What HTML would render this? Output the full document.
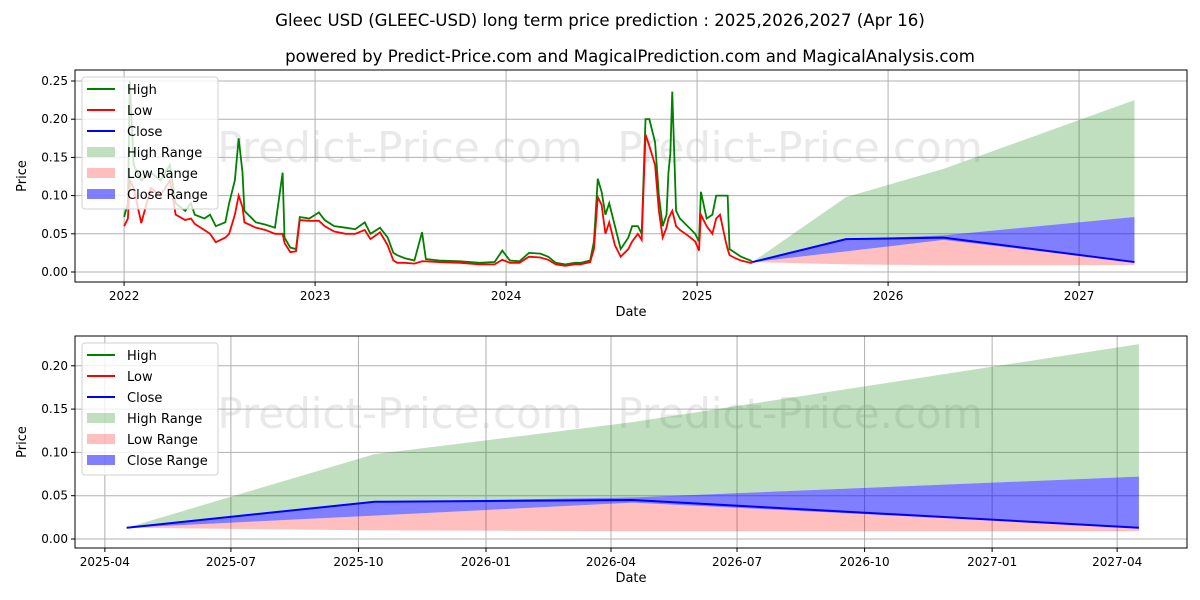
<!DOCTYPE html>
<html><head><meta charset="utf-8">
<style>
html,body{margin:0;padding:0;background:#fff;}
svg{display:block;font-family:"DejaVu Sans","Liberation Sans",sans-serif;}
</style></head>
<body>
<svg id="chart" width="1200" height="600" viewBox="0 0 1200 600" xmlns="http://www.w3.org/2000/svg">
<rect width="1200" height="600" fill="#fff"/>
<text x="600" y="26" text-anchor="middle" font-size="16.6">Gleec USD (GLEEC-USD) long term price prediction : 2025,2026,2027 (Apr 16)</text>
<text x="630" y="62" text-anchor="middle" font-size="16.6">powered by Predict-Price.com and MagicalPrediction.com and MagicalAnalysis.com</text>
<g id="top"></g>
<g id="bottom"></g>
</svg>
<script>
const histDates=[2022.00,2022.02,2022.03,2022.05,2022.09,2022.14,2022.19,2022.24,2022.27,2022.32,2022.35,2022.37,2022.42,2022.45,2022.48,2022.53,2022.55,2022.58,2022.60,2022.62,2022.63,2022.69,2022.74,2022.79,2022.83,2022.84,2022.87,2022.90,2022.92,2022.97,2023.02,2023.05,2023.10,2023.16,2023.21,2023.26,2023.29,2023.34,2023.38,2023.41,2023.43,2023.47,2023.52,2023.56,2023.58,2023.65,2023.76,2023.86,2023.94,2023.98,2024.02,2024.07,2024.12,2024.18,2024.22,2024.26,2024.31,2024.36,2024.39,2024.44,2024.46,2024.48,2024.50,2024.52,2024.54,2024.57,2024.60,2024.64,2024.66,2024.69,2024.71,2024.73,2024.75,2024.78,2024.80,2024.82,2024.84,2024.85,2024.86,2024.87,2024.89,2024.91,2024.95,2024.99,2025.01,2025.02,2025.05,2025.08,2025.10,2025.12,2025.15,2025.16,2025.17,2025.20,2025.23,2025.28,2025.29];
const histHigh=[0.072,0.09,0.25,0.14,0.12,0.13,0.12,0.14,0.09,0.08,0.09,0.075,0.07,0.075,0.06,0.065,0.09,0.12,0.175,0.13,0.08,0.065,0.062,0.058,0.13,0.045,0.032,0.03,0.072,0.07,0.078,0.068,0.06,0.058,0.056,0.065,0.05,0.058,0.045,0.025,0.022,0.018,0.015,0.052,0.017,0.015,0.014,0.012,0.013,0.028,0.015,0.014,0.025,0.024,0.02,0.012,0.01,0.012,0.012,0.015,0.04,0.122,0.105,0.075,0.09,0.06,0.03,0.045,0.06,0.06,0.05,0.2,0.2,0.17,0.1,0.06,0.075,0.13,0.155,0.236,0.08,0.07,0.06,0.05,0.04,0.105,0.07,0.075,0.1,0.1,0.1,0.1,0.03,0.025,0.02,0.015,0.013];
const histLow=[0.06,0.07,0.12,0.11,0.064,0.11,0.10,0.12,0.075,0.068,0.07,0.063,0.055,0.05,0.039,0.045,0.05,0.075,0.10,0.085,0.065,0.058,0.055,0.05,0.05,0.038,0.026,0.027,0.068,0.067,0.067,0.06,0.053,0.05,0.05,0.055,0.043,0.052,0.035,0.015,0.012,0.012,0.011,0.014,0.014,0.013,0.012,0.01,0.01,0.016,0.012,0.012,0.02,0.019,0.016,0.01,0.008,0.01,0.01,0.013,0.03,0.098,0.088,0.05,0.065,0.035,0.02,0.03,0.04,0.05,0.042,0.18,0.165,0.14,0.08,0.045,0.058,0.07,0.075,0.08,0.06,0.055,0.048,0.04,0.028,0.075,0.06,0.05,0.07,0.075,0.04,0.03,0.022,0.018,0.015,0.012,0.012];
const fcDates=[2025.29,2025.78,2026.29,2027.29];
const fcHighUpper=[0.013,0.098,0.135,0.225];
const fcHighLower=[0.013,0.043,0.048,0.072];
const fcLowUpper=[0.013,0.027,0.042,0.013];
const fcLowLower=[0.013,0.010,0.009,0.009];
const fcCloseUpper=[0.013,0.043,0.048,0.072];
const fcCloseLower=[0.013,0.027,0.042,0.013];
const fcClose=[0.013,0.043,0.045,0.013];
const topYTicks=[0,0.05,0.10,0.15,0.20,0.25];
const topYLabels=["0.00","0.05","0.10","0.15","0.20","0.25"];
const topXTicks=[2022,2023,2024,2025,2026,2027];
const botYTicks=[0,0.05,0.10,0.15,0.20];
const botYLabels=["0.00","0.05","0.10","0.15","0.20"];
const botXTicks=[2025.247,2025.496,2025.748,2026.0,2026.247,2026.496,2026.748,2027.0,2027.247];
const botXLabels=["2025-04","2025-07","2025-10","2026-01","2026-04","2026-07","2026-10","2027-01","2027-04"];

const NS="http://www.w3.org/2000/svg";
function mk(parent,tag,attrs,name,text){
  const e=document.createElementNS(NS,tag);
  for(const k in attrs)e.setAttribute(k,attrs[k]);
  
  
  if(text!==undefined)e.textContent=text;
  parent.appendChild(e);return e;
}
function panel(g,box,xd,yd,xt,xl,yt,yl,showHist,prefix){
  const sx=v=>box.x0+(v-xd[0])/(xd[1]-xd[0])*(box.x1-box.x0);
  const sy=v=>box.y1-(v-yd[0])/(yd[1]-yd[0])*(box.y1-box.y0);
  const wm=[[400,box.y0+92],[800,box.y0+92]];
  wm.forEach(p=>mk(g,'text',{x:p[0],y:p[1],'text-anchor':'middle','font-size':42,fill:'#e9e9e9'},prefix+'-watermark','Predict-Price.com'));
  xt.forEach(t=>mk(g,'line',{x1:sx(t),x2:sx(t),y1:box.y0,y2:box.y1,stroke:'#b0b0b0','stroke-width':1},prefix+'-x-grid'));
  yt.forEach(t=>mk(g,'line',{x1:box.x0,x2:box.x1,y1:sy(t),y2:sy(t),stroke:'#b0b0b0','stroke-width':1},prefix+'-y-grid'));
  const band=(up,lo,fill,name)=>{
    let d='M'+fcDates.map((t,i)=>sx(t)+','+sy(up[i])).join('L');
    for(let i=fcDates.length-1;i>=0;i--)d+='L'+sx(fcDates[i])+','+sy(lo[i]);
    mk(g,'path',{d:d+'Z',fill:fill,stroke:'none'},name);
  };
  band(fcHighUpper,fcHighLower,'rgba(0,128,0,0.25)',prefix+'-high-range');
  band(fcLowUpper,fcLowLower,'rgba(255,0,0,0.25)',prefix+'-low-range');
  band(fcCloseUpper,fcCloseLower,'rgba(0,0,255,0.5)',prefix+'-close-range');
  if(showHist){
    mk(g,'polyline',{points:histDates.map((t,i)=>sx(t)+','+sy(histHigh[i])).join(' '),fill:'none',stroke:'#008000','stroke-width':1.8},prefix+'-high-line');
    mk(g,'polyline',{points:histDates.map((t,i)=>sx(t)+','+sy(histLow[i])).join(' '),fill:'none',stroke:'#ff0000','stroke-width':1.8},prefix+'-low-line');
  }
  mk(g,'polyline',{points:fcDates.map((t,i)=>sx(t)+','+sy(fcClose[i])).join(' '),fill:'none',stroke:'#0000ff','stroke-width':2},prefix+'-close-line');
  mk(g,'rect',{x:box.x0,y:box.y0,width:box.x1-box.x0,height:box.y1-box.y0,fill:'none',stroke:'#000','stroke-width':1},prefix+'-plot-frame');
  xt.forEach((t,i)=>{
    mk(g,'line',{x1:sx(t),x2:sx(t),y1:box.y1,y2:box.y1+4,stroke:'#000'},prefix+'-x-tick');
    mk(g,'text',{x:sx(t),y:box.y1+18,'text-anchor':'middle','font-size':12},prefix+'-x-tick-label',xl[i]);
  });
  yt.forEach((t,i)=>{
    mk(g,'line',{x1:box.x0-4,x2:box.x0,y1:sy(t),y2:sy(t),stroke:'#000'},prefix+'-y-tick');
    mk(g,'text',{x:box.x0-7,y:sy(t)+4,'text-anchor':'end','font-size':12},prefix+'-y-tick-label',yl[i]);
  });
  mk(g,'text',{x:(box.x0+box.x1)/2,y:box.y1+34,'text-anchor':'middle','font-size':13},prefix+'-x-axis-title','Date');
  mk(g,'text',{x:26,y:(box.y0+box.y1)/2,'text-anchor':'middle','font-size':13,transform:'rotate(-90 26 '+((box.y0+box.y1)/2)+')'},prefix+'-y-axis-title','Price');
  const lg=mk(g,'g',{},prefix+'-legend');
  mk(lg,'rect',{x:box.x0+7,y:box.y0+7,width:136,height:132,rx:3,fill:'rgba(255,255,255,0.8)',stroke:'#d0d0d0'},prefix+'-legend-box');
  const items=[['High','line','#008000'],['Low','line','#ff0000'],['Close','line','#0000ff'],['High Range','rect','rgba(0,128,0,0.25)'],['Low Range','rect','rgba(255,0,0,0.25)'],['Close Range','rect','rgba(0,0,255,0.5)']];
  items.forEach((it,i)=>{
    const y=box.y0+19+i*21;
    const nm=prefix+'-legend-'+it[0].toLowerCase().replace(' ','-');
    if(it[1]==='line')mk(lg,'line',{x1:box.x0+12,x2:box.x0+40,y1:y,y2:y,stroke:it[2],'stroke-width':2},nm+'-swatch');
    else mk(lg,'rect',{x:box.x0+12,y:y-5,width:28,height:10,fill:it[2]},nm+'-swatch');
    mk(lg,'text',{x:box.x0+52,y:y+5,'font-size':13},nm,it[0]);
  });
}
panel(document.getElementById('top'),{x0:75,x1:1187,y0:70,y1:282},[2021.743,2027.565],[-0.0131,0.2644],topXTicks,topXTicks.map(String),topYTicks,topYLabels,true,'top');
panel(document.getElementById('bottom'),{x0:75,x1:1187,y0:336,y1:548},[2025.188,2027.385],[-0.0104,0.2344],botXTicks,botXLabels,botYTicks,botYLabels,false,'bottom');
</script>
</body></html>
